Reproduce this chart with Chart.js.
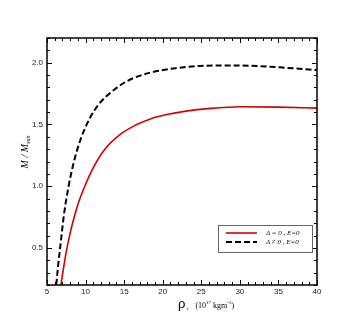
<!DOCTYPE html>
<html>
<head>
<meta charset="utf-8">
<script src="https://cdn.jsdelivr.net/npm/chart.js@4"></script>
<style>
html, body { margin: 0; padding: 0; background: #fff; }
#wrap { width: 361px; height: 321px; }
</style>
</head>
<body>
<div id="wrap"><canvas id="massChart" width="361" height="321"></canvas></div>
<script>
const rhoZero = [6.8, 7.1, 7.47, 8.0, 8.4, 9.1, 9.9, 11.0, 12.5, 14.5, 16.5, 18.4, 20.5, 23, 26.2, 30, 35, 40];
const massZero = [0.2, 0.32, 0.46, 0.62, 0.72, 0.87, 1.0, 1.15, 1.3, 1.42, 1.495, 1.545, 1.58, 1.608, 1.63, 1.643, 1.64, 1.632];

const rhoNonZero = [6.2, 6.45, 6.7, 7.2, 7.8, 8.5, 9.3, 10.15, 11, 12, 13, 14.1, 15.2, 16.2, 18.4, 20.5, 22.5, 24.9, 29.2, 32.5, 35.7, 40];
const massNonZero = [0.2, 0.36, 0.5, 0.77, 1.0, 1.2, 1.37, 1.5, 1.6, 1.685, 1.745, 1.8, 1.845, 1.875, 1.92, 1.945, 1.962, 1.974, 1.978, 1.972, 1.96, 1.94];

const xTicks = [5, 10, 15, 20, 25, 30, 35, 40];
const yTicks = [0.5, 1.0, 1.5, 2.0];
const legendLabels = ["\u0394 = 0 , E=0", "\u0394 \u2260 0 , E=0"];

function toPoints(xs, ys) {
    return xs.map((x, i) => ({ x: x, y: ys[i] }));
}

// inward ticks on all four sides, frame, axis titles and legend box
const framePlugin = {
    id: "frame",
    afterDraw(chart) {
        const ctx = chart.ctx;
        const a = chart.chartArea;
        const xs = chart.scales.x;
        const ys = chart.scales.y;
        ctx.save();
        ctx.strokeStyle = "#000";
        ctx.lineWidth = 1;
        ctx.beginPath();
        for (let v = 5; v <= 40; v++) {
            const px = Math.round(xs.getPixelForValue(v)) + 0.5;
            const len = v % 5 === 0 ? 5 : 3;
            ctx.moveTo(px, a.bottom); ctx.lineTo(px, a.bottom - len);
            ctx.moveTo(px, a.top); ctx.lineTo(px, a.top + len);
        }
        for (let k = 2; k <= 22; k++) {
            const py = Math.round(ys.getPixelForValue(k / 10)) + 0.5;
            const len = k % 5 === 0 ? 5 : 3;
            ctx.moveTo(a.left, py); ctx.lineTo(a.left + len, py);
            ctx.moveTo(a.right, py); ctx.lineTo(a.right - len, py);
        }
        ctx.stroke();
        ctx.lineWidth = 1.5;
        ctx.strokeRect(a.left, a.top, a.right - a.left, a.bottom - a.top);

        // y title: M / M_sun
        ctx.fillStyle = "#000";
        ctx.translate(25, 152);
        ctx.rotate(-Math.PI / 2);
        ctx.textBaseline = "alphabetic";
        ctx.font = "italic 10px 'Liberation Serif'";
        const main = "M / M";
        const w1 = ctx.measureText(main).width;
        ctx.font = "italic 6px 'Liberation Serif'";
        const w2 = ctx.measureText("sun").width;
        let sx = -(w1 + w2) / 2;
        ctx.font = "italic 10px 'Liberation Serif'";
        ctx.fillText(main, sx, 3);
        ctx.font = "italic 6px 'Liberation Serif'";
        ctx.fillText("sun", sx + w1, 5);
        ctx.setTransform(1, 0, 0, 1, 0, 0);

        // x title: rho_c (10^17 kgm^-3)
        let tx = 178;
        const base = 308;
        ctx.font = "13px 'Liberation Sans'";
        ctx.fillText("\u03c1", tx, base);
        tx += ctx.measureText("\u03c1").width + 1;
        ctx.font = "5px 'Liberation Serif'";
        ctx.fillText("c", tx, base + 2);
        tx += 9;
        ctx.font = "8px 'Liberation Serif'";
        ctx.fillText("(10", tx, base);
        tx += ctx.measureText("(10").width;
        ctx.font = "5px 'Liberation Serif'";
        ctx.fillText("17", tx, base - 4);
        tx += ctx.measureText("17").width + 2;
        ctx.font = "8px 'Liberation Serif'";
        ctx.fillText("kgm", tx, base);
        tx += ctx.measureText("kgm").width;
        ctx.font = "5px 'Liberation Serif'";
        ctx.fillText("-3", tx, base - 4);
        tx += ctx.measureText("-3").width;
        ctx.font = "8px 'Liberation Serif'";
        ctx.fillText(")", tx, base);

        // legend
        ctx.lineWidth = 1;
        ctx.strokeStyle = "#666";
        ctx.strokeRect(218.5, 225.5, 94, 27);
        const ds = chart.data.datasets;
        [233, 242].forEach((y, i) => {
            ctx.beginPath();
            ctx.strokeStyle = ds[i].borderColor;
            ctx.lineWidth = ds[i].borderWidth;
            ctx.setLineDash(ds[i].borderDash || []);
            ctx.moveTo(226, y); ctx.lineTo(257, y);
            ctx.stroke();
            ctx.setLineDash([]);
            ctx.fillStyle = "#000";
            ctx.font = "italic 7px 'Liberation Serif'";
            ctx.textBaseline = "middle";
            ctx.fillText(legendLabels[i], 266, y);
        });
        ctx.restore();
    }
};

const ctx = document.getElementById("massChart").getContext("2d");

new Chart(ctx, {
    type: "line",
    data: {
        datasets: [{
            label: legendLabels[0],
            data: toPoints(rhoZero, massZero),
            borderColor: "#d40000",
            borderWidth: 1.6,
            pointRadius: 0,
            cubicInterpolationMode: "monotone",
            fill: false
        }, {
            label: legendLabels[1],
            data: toPoints(rhoNonZero, massNonZero),
            borderColor: "#000000",
            borderWidth: 2,
            borderDash: [6, 3],
            pointRadius: 0,
            cubicInterpolationMode: "monotone",
            fill: false
        }]
    },
    options: {
        responsive: false,
        animation: false,
        layout: { padding: { top: 38, right: 44, left: 0, bottom: 0 } },
        plugins: {
            legend: { display: false },
            tooltip: { enabled: false }
        },
        scales: {
            x: {
                type: "linear",
                min: 5,
                max: 40,
                grid: { display: false, drawTicks: false },
                border: { display: false },
                afterBuildTicks: (axis) => { axis.ticks = xTicks.map(v => ({ value: v })); },
                afterFit: (axis) => { axis.height = 36; },
                ticks: {
                    color: "#222",
                    padding: 2,
                    maxRotation: 0,
                    font: { family: "'Liberation Sans'", size: 8 }
                }
            },
            y: {
                min: 0.2,
                max: 2.2,
                grid: { display: false, drawTicks: false },
                border: { display: false },
                afterBuildTicks: (axis) => { axis.ticks = yTicks.map(v => ({ value: v })); },
                afterFit: (axis) => { axis.width = 47; },
                ticks: {
                    color: "#222",
                    padding: 4,
                    font: { family: "'Liberation Sans'", size: 8 },
                    callback: (v) => Number(v).toFixed(1)
                }
            }
        }
    },
    plugins: [framePlugin]
});
</script>
</body>
</html>
